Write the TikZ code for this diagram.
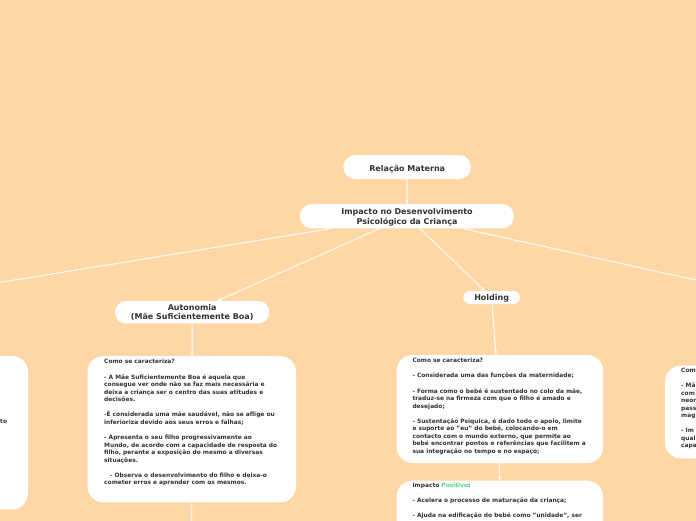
\documentclass[tikz,border=0pt]{standalone}
\usepackage{fontspec}
\setmainfont{DejaVu Sans}
\usetikzlibrary{arrows.meta}
\definecolor{bg}{RGB}{255,215,166}
\definecolor{ink}{RGB}{51,51,51}
\definecolor{pos}{RGB}{76,218,128}
\tikzset{
  ttl/.style={fill=white, inner sep=0pt, text=ink, align=center,
    font=\bfseries\fontsize{8}{9.4}\selectfont},
  card/.style={fill=white, inner sep=0pt, rounded corners=16pt},
  body/.style={anchor=north west, inner sep=0pt, text=ink, align=left,
    font=\bfseries\fontsize{5.9}{7.55}\selectfont},
  link/.style={draw=white, line width=0.9pt},
  arr/.style={link, -{Stealth[length=4pt,width=3.5pt]}}
}
\newcommand{\lowertxt}[2]{\raisebox{#1}[\height][\depth]{#2}}
\begin{document}
\begin{tikzpicture}[x=1pt,y=-1pt]
\useasboundingbox (0,0) rectangle (696,520);
\clip (0,0) rectangle (696,520);
\fill[bg] (-10,-10) rectangle (706,530);

% off-screen targets
\coordinate (lt) at (-100,298.7);
\coordinate (rt) at (800,303);
\coordinate (dn) at (191.7,600);

% title nodes
\node[ttl, minimum width=127.7pt, minimum height=24pt, rounded corners=12pt] (rel) at (407.2,167) {\lowertxt{-2.3pt}{Relação Materna}};
\node[ttl, minimum width=214pt, minimum height=24.3pt, rounded corners=12pt] (imp) at (407,216.2) {\lowertxt{-1.6pt}{\begin{tabular}{@{}c@{}}Impacto no Desenvolvimento\\Psicológico da Criança\end{tabular}}};
\node[ttl, minimum width=154.3pt, minimum height=22.3pt, rounded corners=11pt] (aut) at (192.2,312.2) {Autonomia\\(Mãe Suficientemente Boa)};
\node[ttl, minimum width=56.7pt, minimum height=13pt, rounded corners=6.5pt] (hol) at (491.7,297.5) {\lowertxt{-1.3pt}{Holding}};

% cards
\node[card, minimum width=208.5pt, minimum height=146.3pt] (autbox) at (191.75,429.15) {};
\node[card, minimum width=206.6pt, minimum height=108pt] (holbox) at (499.9,409) {};
\node[card, minimum width=206.6pt, minimum height=160pt] (posbox) at (499.9,560.7) {};
\node[card, minimum width=208pt, minimum height=153.3pt] (lbox) at (-76,432.65) {};
\node[card, minimum width=160pt, minimum height=92.6pt] (rbox) at (745,412) {};

% connectors
\draw[arr] (rel) -- (imp);
\draw[link] (imp) -- (lt);
\draw[link] (imp) -- (rt);
\draw[arr] (imp) -- (aut);
\draw[arr] (imp) -- (hol);
\draw[arr] (aut) -- (autbox);
\draw[arr] (hol) -- (holbox);
\draw[arr] (holbox) -- (posbox);
\draw[link] (autbox) -- (dn);

% texts
\node[body] (auttxt) at (104,359.3) {Como se caracteriza?\\[7.55pt]
- A Mãe Suficientemente Boa é aquela que\\
consegue ver onde não se faz mais necessária e\\
deixa a criança ser o centro das suas atitudes e\\
decisões.\\[7.55pt]
-É considerada uma mãe saudável, não se aflige ou\\
inferioriza devido aos seus erros e falhas;\\[7.55pt]
- Apresenta o seu filho progressivamente ao\\
Mundo, de acordo com a capacidade de resposta do\\
filho, perante a exposição do mesmo a diversas\\
situações.\\[7.55pt]
\hspace*{6pt}- Observa o desenvolvimento do filho e deixa-o\\
cometer erros e aprender com os mesmos.};

\node[body] (holtxt) at (412.3,358.2) {Como se caracteriza?\\[7.55pt]
- Considerada uma das funções da maternidade;\\[7.55pt]
- Forma como o bebé é sustentado no colo da mãe,\\
traduz-se na firmeza com que o filho é amado e\\
desejado;\\[7.55pt]
- Sustentação Psíquica, é dado todo o apoio, limite\\
e suporte ao "eu" do bebé, colocando-o em\\
contacto com o mundo externo, que permite ao\\
bebé encontrar pontos e referências que facilitem a\\
sua integração no tempo e no espaço;};

\node[body] (postxt) at (412.3,482.8) {Impacto \textcolor{pos}{Positivo}:\\[7.55pt]
- Acelera o processo de maturação da criança;\\[7.55pt]
- Ajuda na edificação do bebé como "unidade", ser};

\node[body] (rtxt) at (681,367.8) {Com\\[7.55pt]
- Mã\\com\\neor\\pass\\mag\\[7.55pt]
- Im\\qual\\capa};

\node[body, anchor=base east] (ltxt) at (7.3,423.2) {to};
\end{tikzpicture}
\end{document}
